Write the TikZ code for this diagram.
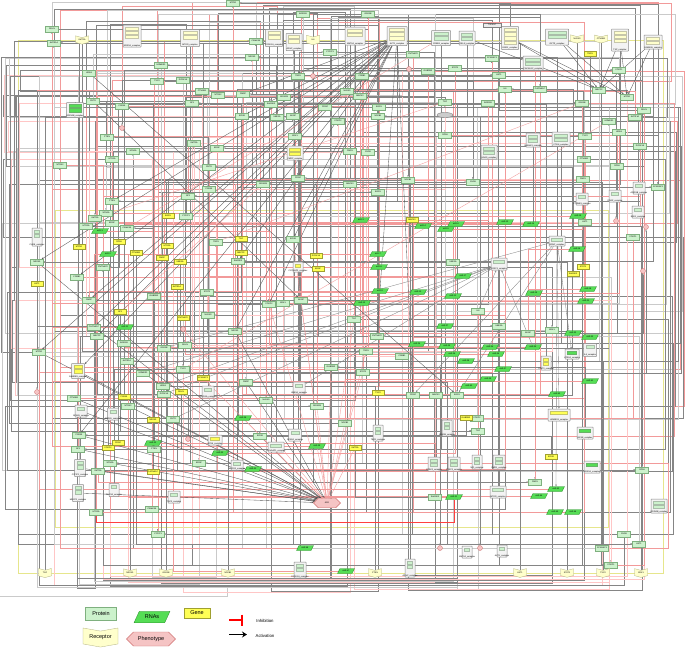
\documentclass[tikz,border=0pt]{standalone}
\usepackage{fontspec}
\setmainfont{Liberation Sans}
\usetikzlibrary{shapes.geometric,shapes.symbols,arrows.meta}
\pgfdeclarelayer{bgwhite}
\pgfdeclarelayer{bg}
\pgfsetlayers{bgwhite,bg,main}
\definecolor{protF}{HTML}{CCF2CC}
\definecolor{protD}{HTML}{7FB07F}
\definecolor{rnaF}{HTML}{55DD55}
\definecolor{rnaD}{HTML}{2E8B2E}
\definecolor{geneF}{HTML}{FFFF55}
\definecolor{geneD}{HTML}{A0A030}
\definecolor{recF}{HTML}{FFFFCC}
\definecolor{recD}{HTML}{B0B080}
\definecolor{phenF}{HTML}{F5C4C4}
\definecolor{phenD}{HTML}{D07070}
\definecolor{frameY}{HTML}{E6E68C}
\definecolor{lineG}{HTML}{858585}
\definecolor{lineL}{HTML}{CACACA}
\definecolor{lineR}{HTML}{F29A9A}
\definecolor{lineRL}{HTML}{FFC6C6}
\definecolor{cplxD}{HTML}{8C8C8C}
\definecolor{cplxF}{HTML}{F3F3F3}
\tikzset{
 tinyf/.style={font=\fontsize{2.1}{2.3}\selectfont},
 prot/.style={tinyf, draw=protD, fill=protF, line width=0.3pt, minimum width=13pt, minimum height=5.5pt, inner sep=0.5pt},
 rna/.style={tinyf, trapezium, trapezium left angle=55, trapezium right angle=125, trapezium stretches=true, draw=rnaD, fill=rnaF, line width=0.3pt, minimum width=17pt, minimum height=5pt, inner sep=0.3pt},
 gene/.style={tinyf, draw=geneD, fill=geneF, line width=0.3pt, minimum width=12pt, minimum height=5pt, inner sep=0.5pt},
 recp/.style={tinyf, signal, signal to=south, signal from=north, signal pointer angle=150, draw=recD, fill=recF, line width=0.3pt, minimum width=13pt, minimum height=7pt, inner sep=0.5pt},
 sink/.style={circle, draw=phenD, fill=phenF, minimum size=5pt, inner sep=0pt, line width=0.3pt},
 pheno/.style={tinyf, signal, signal to=east and west, draw=phenD, fill=phenF, line width=0.4pt, minimum width=27pt, minimum height=9.5pt, inner sep=0.5pt},
 cplx/.style={draw=cplxD, fill=cplxF, line width=0.5pt, inner sep=0pt, rounded corners=0.5pt},
 citem/.style={draw=#1!55!gray, fill=#1, line width=0.2pt, minimum height=3.2pt, inner sep=0pt},
 gA/.style={draw=lineG, line width=0.33pt, -{Stealth[length=2pt,width=1.6pt]}},
 gB/.style={draw=lineL, line width=0.9pt},
 rA/.style={draw=lineR, line width=0.35pt, -{Bar[width=2.5pt]}},
 rB/.style={draw=lineRL, line width=0.8pt},
 dk/.style={draw=black!65, line width=0.35pt, -{Stealth[length=2pt,width=1.6pt]}},
 yf/.style={draw=frameY, line width=1pt},
 ln/.style 2 args={draw=#1, line width=#2pt},
 legf/.style={font=\fontsize{5.5}{6}\selectfont},
}
\def\NL{{"MECP2","FMR1","SHANK3","NLGN3","NRXN1","PTEN","TSC2","MTOR","CHD8","UBE3A","GRIN2B","CNTNAP2","SCN2A","DYRK1A","ARID1B","SYNGAP1","ADNP","POGZ","TBR1","KMT2A","CTNNB1","GSK3B","AKT1","ERK1","MAPK3","CREB1","BDNF","NTRK2","RELN","FOXP1","FOXP2","EGR1","GABRB3","HTR2A","OXTR","AVPR1A","IL6","TNF","NFKB1","STAT3","CAMK2A","PSD95","HOMER1","CACNA1C","RPS6","EIF4E","FMRP","CYFIP1","NF1","HRAS"}}
\begin{document}
\begin{tikzpicture}[x=1pt,y=-1pt]
\useasboundingbox (0,0) rectangle (685,649);
\begin{pgfonlayer}{bgwhite}
\fill[white] (0,0) rectangle (685,649);
\end{pgfonlayer}
% ---------- proteins
\foreach \x/\y [count=\i] in {233/3,303/14,368/14,52/29,54/43,161/65,89/73,157/81,183/80,202/91,218/95,93/101,122/106,192/103,107/137,133/151,194/143,217/148,112/159,
256/41,330/52,252/57,413/54,298/76,362/76,428/71,455/68,243/94,347/91,284/97,325/107,360/96,379/107,378/116,242/116,271/104,277/117,293/116,295/136,338/121,445/102,445/135,350/151,368/152,
492/58,499/75,619/70,505/89,540/89,599/90,627/97,488/103,582/103,644/110,635/117,609/121,619/132,585/136,640/146,584/159,
60/165,209/167,209/189,188/196,112/201,106/213,95/218,112/223,86/226,127/228,186/216,37/262,103/267,216/242,77/277,154/296,207/292,89/300,208/315,
263/184,298/178,350/184,378/192,408/180,293/239,238/261,453/262,301/300,283/303,269/304,354/319,
617/166,583/179,473/182,658/187,585/222,633/237,478/311,
94/327,97/336,39/352,124/343,164/348,185/345,127/361,143/373,163/386,183/369,164/394,74/398,128/406,173/419,79/435,78/449,154/449,110/463,98/471,199/463,96/512,152/509,158/534,
235/331,377/336,366/351,402/356,331/367,363/372,246/382,266/400,317/406,413/395,436/395,457/395,345/423,260/436,435/497,
499/326,528/333,552/330,477/418,478/431,642/470,535/482,624/534,602/548,639/544,611/565}{%
 \pgfmathtruncatemacro{\ix}{mod(\i*7,50)}\pgfmathparse{\NL[\ix]}\let\lbl\pgfmathresult
 \node[prot] (p\i) at (\x,\y) {\lbl};}
% ---------- RNAs
\foreach \x/\y [count=\i] in {100/231,108/254,361/220,423/226,446/229,456/224,378/254,379/267,380/291,418/292,453/296,362/303,505/222,531/224,578/216,577/249,463/276,588/289,534/293,586/301,125/327,153/443,220/453,417/344,447/346,452/354,445/326,243/418,317/446,253/469,454/497,573/333,590/337,490/347,533/347,496/354,503/369,466/361,488/379,469/386,590/381,557/394,556/489,539/496,555/512,573/512,346/571,305/548}{%
 \node[rna] (r\i) at (\x,\y) {miR-\i};}
% ---------- genes
\foreach \x/\y [count=\i] in {590/54,168/216,119/242,79/247,136/253,167/246,162/258,180/262,37/284,177/287,120/312,183/318,412/220,241/239,241/253,316/256,318/269,583/267,573/274,203/378,181/392,124/397,153/420,118/443,108/448,153/472,378/393,355/448,466/418,551/457}{%
 \pgfmathtruncatemacro{\ix}{mod(\i*13+5,50)}\pgfmathparse{\NL[\ix]}\let\lbl\pgfmathresult
 \node[gene] (g\i) at (\x,\y) {\lbl};}
% ---------- complexes
\foreach \x/\y/\w/\h/\cl [count=\i] in {132/36/18/22/recF,190/38/19/17/recF,75/110/17/15/rnaF,274/38/17/17/recF,294/42/16/17/recF,355/36/20/18/recF,397/36/20/19/recF,441/38/19/15/protF,467/38/16/14/protF,510/38/17/23/recF,557/37/23/16/protF,620/40/17/22/recF,653/42/18/14/recF,533/63/20/14/protF,295/153/16/14/geneF,489/152/16/14/protF,533/140/14/14/protF,561/139/18/14/protF,37/237/10/18/protF,298/267/10/10/geneF,639/188/12/12/protF,615/196/12/12/protF,582/199/12/12/protF,638/212/12/12/protF,557/241/16/10/protF,499/264/16/12/protF,78/371/13/15/geneF,208/392/12/12/protF,81/411/12/12/protF,113/414/11/12/protF,215/440/14/10/geneF,80/468/11/17/protF,78/493/11/17/protF,114/490/10/13/protF,174/497/12/12/protF,299/388/12/12/protF,295/435/13/12/protF,276/447/16/10/protF,378/433/10/16/protF,447/428/10/16/protF,237/465/12/10/protF,434/464/12/14/protF,454/464/12/14/protF,572/354/14/10/rnaF,590/350/13/13/protF,546/363/10/14/geneF,559/415/22/12/geneF,585/433/16/12/rnaF,477/462/10/14/protF,499/462/12/14/protF,592/467/16/12/rnaF,498/492/16/12/protF,659/506/16/14/protF,300/570/12/16/protF,410/568/10/18/protF,467/552/10/12/protF,502/551/10/12/protF}{%
 \node[cplx, minimum width=\w pt, minimum height=\h pt] (c\i) at (\x,\y) {};
 \pgfmathtruncatemacro{\nn}{max(1,(\h-5)/4.5)}
 \foreach \j in {1,...,\nn}{\node[citem=\cl, minimum width=\w pt-5pt] at (\x,\y-\h/2+1.4+\j*4.1-2.05) {};}
 \pgfmathtruncatemacro{\ix}{mod(\i*3+1,50)}\pgfmathparse{\NL[\ix]}\let\lbl\pgfmathresult
 \node[tinyf, inner sep=0pt] at (\x,\y+\h/2-1.3) {\lbl\_complex};}
% ---------- receptors
\foreach \x/\y [count=\i] in {82/40,313/40,577/39,601/39,45/573,130/573,166/573,228/573,375/573,520/573,567/573,603/573,641/573}{%
 \pgfmathtruncatemacro{\ix}{mod(\i*17+2,50)}\pgfmathparse{\NL[\ix]}\let\lbl\pgfmathresult
 \node[recp] (q\i) at (\x,\y) {\lbl};}
% ---------- sinks
\foreach \x/\y [count=\i] in {122/128,313/76,409/69,37/392,183/329,188/439,616/221,646/227,643/271,440/548,480/548}{%
 \node[sink] (s\i) at (\x,\y) {};}
\node[pheno] (asd) at (327,503) {ASD};
\node[tinyf, draw=gray, fill=gray!15, minimum width=18pt, minimum height=4pt, inner sep=0.3pt] (tag) at (492,25) {TSPAN7};
\node[tinyf, ellipse, draw=gray, fill=gray!40, minimum width=16pt, minimum height=5pt, inner sep=0pt] (ell) at (445,115) {};
% ---------- legend
\node[prot, legf, minimum width=31pt, minimum height=13pt] (lp) at (101,614) {Protein};
\node[rna, legf, minimum width=36pt, minimum height=11.5pt] (lr) at (152,617) {RNAs};
\node[gene, legf, minimum width=26pt, minimum height=10pt] (lg) at (197,613) {Gene};
\node[recp, legf, minimum width=35pt, minimum height=17pt, signal pointer angle=160] (lq) at (100.5,637.5) {Receptor};
\node[pheno, legf, minimum width=49pt, minimum height=14pt] (lph) at (151,639) {Phenotype};
\coordinate (i1) at (229,620); \coordinate (i2) at (242.5,620);
\draw[red, line width=1.2pt, -{Bar[width=11pt,line width=1.2pt]}] (i1) -- (i2);
\node[font=\fontsize{4.3}{5}\selectfont] (ti) at (265,621) {Inhibition};
\coordinate (a1) at (229,634.5); \coordinate (a2) at (247,634.5);
\draw[black, line width=1.3pt, -{Stealth[length=5pt,width=6pt]}] (a1) -- (a2);
\node[font=\fontsize{4.3}{5}\selectfont] (ta) at (265,635.5) {Activation};
% ---------- connectors
\begin{pgfonlayer}{bg}
\draw[yf] (18,40) rectangle (663,573);
\draw[yf] (55,210) rectangle (608,527);
\draw[lineL, line width=0.8pt] (0,596) -- (227,596) -- (227,588);
\pgfmathsetseed{4242}
% border bundles
\foreach \k in {1,...,26}{%
 \pgfmathrandominteger{\nA}{1}{147}\pgfmathrandominteger{\nO}{1}{146}\pgfmathtruncatemacro{\nB}{mod(\nA+\nO-1,147)+1}%
 \pgfmathsetmacro{\xx}{0.5+\k*0.75}\pgfmathtruncatemacro{\mm}{mod(\k,5)}%
 \ifnum\mm=0 \def\lc{lineRL}\def\lw{0.7}\else\ifnum\mm=2 \def\lc{lineL}\def\lw{0.9}\else\def\lc{lineG}\def\lw{0.33}\fi\fi
 \draw[ln={\lc}{\lw}] (p\nA) -- (\xx,0 |- p\nA) -- (\xx,0 |- p\nB) -- (p\nB);}
\foreach \k in {1,...,24}{%
 \pgfmathrandominteger{\nA}{1}{147}\pgfmathrandominteger{\nO}{1}{146}\pgfmathtruncatemacro{\nB}{mod(\nA+\nO-1,147)+1}%
 \pgfmathsetmacro{\yy}{0.8+\k*1.0}\pgfmathtruncatemacro{\mm}{mod(\k,4)}%
 \ifnum\mm=1 \def\lc{lineR}\def\lw{0.4}\else\ifnum\mm=2 \def\lc{lineL}\def\lw{0.9}\else\def\lc{lineG}\def\lw{0.33}\fi\fi
 \draw[ln={\lc}{\lw}] (p\nA) -- (p\nA |- 0,\yy) -- (p\nB |- 0,\yy) -- (p\nB);}
\foreach \k in {1,...,24}{%
 \pgfmathrandominteger{\nA}{1}{147}\pgfmathrandominteger{\nO}{1}{146}\pgfmathtruncatemacro{\nB}{mod(\nA+\nO-1,147)+1}%
 \pgfmathsetmacro{\xx}{684.5-\k*0.8}\pgfmathtruncatemacro{\mm}{mod(\k,4)}%
 \ifnum\mm=1 \def\lc{lineR}\def\lw{0.4}\else\ifnum\mm=3 \def\lc{lineL}\def\lw{0.9}\else\def\lc{lineG}\def\lw{0.33}\fi\fi
 \draw[ln={\lc}{\lw}] (p\nA) -- (\xx,0 |- p\nA) -- (\xx,0 |- p\nB) -- (p\nB);}
\foreach \k in {1,...,22}{%
 \pgfmathrandominteger{\nA}{60}{147}\pgfmathrandominteger{\nO}{1}{146}\pgfmathtruncatemacro{\nB}{mod(\nA+\nO-1,147)+1}%
 \pgfmathsetmacro{\yy}{593-\k*0.8}\pgfmathtruncatemacro{\mm}{mod(\k,4)}%
 \ifnum\mm=1 \def\lc{lineRL}\def\lw{0.7}\else\ifnum\mm=3 \def\lc{lineL}\def\lw{0.9}\else\def\lc{lineG}\def\lw{0.33}\fi\fi
 \draw[ln={\lc}{\lw}] (p\nA) -- (p\nA |- 0,\yy) -- (p\nB |- 0,\yy) -- (p\nB);}
% interior random connectors
\foreach \k in {1,...,140}{%
 \pgfmathrandominteger{\nA}{1}{147}\pgfmathrandominteger{\nO}{1}{146}\pgfmathtruncatemacro{\nB}{mod(\nA+\nO-1,147)+1}%
 \draw[gA] (p\nA) -| (p\nB);}
\foreach \k in {1,...,70}{%
 \pgfmathrandominteger{\nA}{1}{147}\pgfmathrandominteger{\nO}{1}{146}\pgfmathtruncatemacro{\nB}{mod(\nA+\nO-1,147)+1}%
 \draw[gB] (p\nA) |- (p\nB);}
\foreach \k in {1,...,60}{%
 \pgfmathrandominteger{\nA}{1}{147}\pgfmathrandominteger{\nO}{1}{146}\pgfmathtruncatemacro{\nB}{mod(\nA+\nO-1,147)+1}%
 \draw[rA] (p\nA) -| (p\nB);}
\foreach \k in {1,...,35}{%
 \pgfmathrandominteger{\nA}{1}{147}\pgfmathrandominteger{\nO}{1}{146}\pgfmathtruncatemacro{\nB}{mod(\nA+\nO-1,147)+1}%
 \draw[rB] (p\nA) |- (p\nB);}
\foreach \k in {1,...,60}{%
 \pgfmathrandominteger{\nA}{1}{57}\pgfmathrandominteger{\nB}{1}{147}%
 \draw[gA] (c\nA) |- (p\nB);}
\foreach \k in {1,...,48}{%
 \pgfmathrandominteger{\nB}{1}{147}%
 \draw[rA] (r\k) -| (p\nB);}
\foreach \k in {1,...,30}{%
 \pgfmathrandominteger{\nB}{1}{147}%
 \draw[gA] (g\k) |- (p\nB);}
\foreach \k in {1,...,13}{%
 \pgfmathrandominteger{\nB}{1}{147}%
 \draw[gA] (q\k) |- (p\nB);}
\foreach \k in {1,...,11}{%
 \pgfmathrandominteger{\nB}{1}{147}%
 \draw[gA] (p\nB) -| (s\k);}
% fans
\foreach \s in {p72,p99,p101,p110,p113,p114,p116,p117,p122,p128,p135,c27,c29,c32,c33,p105,p111}{\draw[dk] (\s) -- (asd);}
\foreach \s in {p88,p90,p126,p127,p130,p134,r29,g28,s5,p124,r28,g20,p85,p91}{\draw[rA] (\s) -- (asd);}
\foreach \s in {p72,p101,p99,p75,p28,p85,p86,p90,p122,p123,p131,p35,p65,c27,p113,p78,p100}{\draw[dk] (c7) -- (\s);}
\foreach \s in {c9,c10,c11,c12,c13}{\draw[dk] (\s) -- (p50);}
\foreach \s in {c11,c12,c13,c10}{\draw[dk] (\s) -- (p51);}
\foreach \s in {p106,p109,p107,p98,r35,p112,c36}{\draw[gA] (\s) -- (c26);}
\foreach \s in {p131,p133,r43,c47,p103,c44}{\draw[gA] (c25) -- (\s);}
\draw[rA] (p70) -- (c8);
\draw[rA] (p67) -- (p41);
\draw[rA] (p108) -- (p56);
\draw[rA] (g11) -- (p80);
\draw[rA] (p74) -- (p53);
\draw[dk] (p7) -- (p133);
\draw[dk] (p12) -- (p88);
\draw[line width=0.8pt, draw=red!75] (p119) |- (r31 |- 0,522) -- (r31);
\end{pgfonlayer}
\end{tikzpicture}
\end{document}
